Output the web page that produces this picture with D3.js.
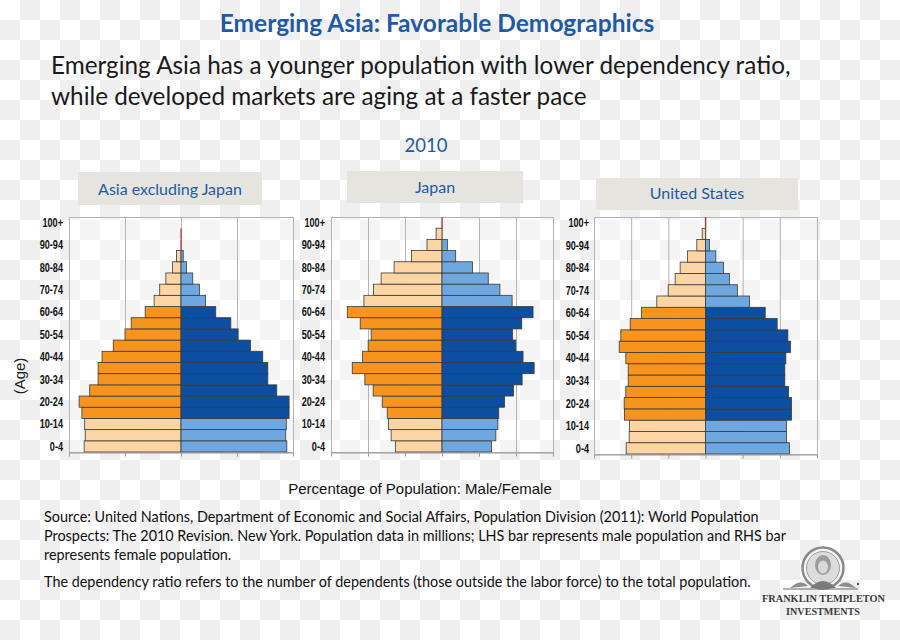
<!DOCTYPE html>
<html><head><meta charset="utf-8">
<script src="https://cdn.jsdelivr.net/npm/d3@7/dist/d3.min.js"></script>
<style>html,body{margin:0;padding:0;background:#fff;}svg{display:block;}</style>
</head><body>
<svg id="c" width="900" height="640"></svg>
<script>
// ---------- DATA ----------
const ageGroups = ["0-4","5-9","10-14","15-19","20-24","25-29","30-34","35-39","40-44","45-49","50-54","55-59","60-64","65-69","70-74","75-79","80-84","85-89","90-94","95-99","100+"];
const axisLabels = ["0-4","10-14","20-24","30-34","40-44","50-54","60-64","70-74","80-84","90-94","100+"];
const regionNames = ["Asia excluding Japan","Japan","United States"];
// population (millions); LHS = male, RHS = female
const asiaMale    = [173,171,172,177,182,163,148,148,141,121,100,89,64,48,38,27,15,8,1.2,0.3,0];
const asiaFemale  = [189,187,188,193,193,171,155,155,146,124,102,89,62,44,33,21,10,4,0.8,0.2,0];
const japanMale   = [2.52,2.75,2.89,2.96,3.23,3.72,4.17,4.85,4.29,3.99,3.83,4.42,5.12,4.22,3.70,3.29,2.59,1.65,0.81,0.32,0.04];
const japanFemale = [2.68,2.91,3.02,3.07,3.38,3.86,4.33,4.98,4.38,3.99,3.81,4.31,4.92,3.79,3.13,2.50,1.65,0.74,0.29,0.05,0.01];
const usMale      = [10.67,10.27,10.22,10.90,10.94,10.72,10.40,10.40,10.72,11.61,11.39,10.13,8.61,6.55,5.02,4.08,3.41,2.42,1.17,0.45,0.05];
const usFemale    = [11.30,10.90,10.90,11.57,11.57,11.17,10.67,10.67,10.81,11.43,11.08,9.64,8.03,5.92,4.30,3.23,2.42,1.39,0.54,0.10,0.01];
const axisMax  = [200, 6, 15];
const gridStep = [100, 2, 5];
const yearLabel = "2010";
const titleText = "Emerging Asia: Favorable Demographics";
const subtitleLines = ["Emerging Asia has a younger population with lower dependency ratio,","while developed markets are aging at a faster pace"];
const xAxisTitle = "Percentage of Population: Male/Female";
const yAxisTitle = "(Age)";
const sourceLines = [
 "Source: United Nations, Department of Economic and Social Affairs, Population Division (2011): World Population",
 "Prospects: The 2010 Revision. New York. Population data in millions; LHS bar represents male population and RHS bar",
 "represents female population."
];
const noteLine = "The dependency ratio refers to the number of dependents (those outside the labor force) to the total population.";
const logoLines = ["FRANKLIN TEMPLETON","INVESTMENTS"];

// ---------- LAYOUT / STYLE ----------
const layout = [
 {x0:69, x1:293, y0:217, y1:452, labelX:63, box:[78,172,184,33], titleY:195},
 {x0:331,x1:553, y0:217, y1:452, labelX:325, box:[347,171,176,32], titleY:193},
 {x0:594,x1:817, y0:217, y1:454, labelX:589, box:[596,178,202,32], titleY:199}
];
const C = {darkOrange:"#F7941D", lightOrange:"#FCD5A3", darkBlue:"#0B4EA2", lightBlue:"#6FA7E1",
           blueText:"#1F5AA6", box:"#E6E4DE", grid:"#B4B4B4", frame:"#9A9A9A"};
const sansUI = "Lato, 'Open Sans', sans-serif";
const arial = "'Liberation Sans', Arial, sans-serif";
const serif = "'Liberation Serif','DejaVu Serif',serif";

const svg = d3.select("#c");

// checkerboard background
const defs = svg.append("defs");
const pat = defs.append("pattern").attr("id","chk").attr("width",40).attr("height",40).attr("patternUnits","userSpaceOnUse");
pat.append("rect").attr("width",40).attr("height",40).attr("fill","#ffffff");
pat.append("rect").attr("x",20).attr("y",0).attr("width",20).attr("height",20).attr("fill","#efefef");
pat.append("rect").attr("x",0).attr("y",20).attr("width",20).attr("height",20).attr("fill","#efefef");
svg.append("rect").attr("width",900).attr("height",640).attr("fill","url(#chk)");

// titles
svg.append("text").attr("x",437).attr("y",32).attr("text-anchor","middle")
  .attr("font-family",sansUI).attr("font-weight","bold").attr("font-size",24.5).attr("fill",C.blueText).text(titleText);
subtitleLines.forEach((t,i)=>{
  svg.append("text").attr("x",51).attr("y",74+i*31).attr("font-family",sansUI).attr("font-size",24.3)
    .attr("fill","#1a1a1a").text(t);
});
svg.append("text").attr("x",426).attr("y",152).attr("text-anchor","middle").attr("font-family",sansUI)
  .attr("font-size",18.5).attr("fill",C.blueText).text(yearLabel);

const series = [[asiaMale,asiaFemale],[japanMale,japanFemale],[usMale,usFemale]];

series.forEach(([male,female],pi)=>{
  const L = layout[pi];
  const g = svg.append("g");
  // region title box
  g.append("rect").attr("x",L.box[0]).attr("y",L.box[1]).attr("width",L.box[2]).attr("height",L.box[3]).attr("fill",C.box);
  g.append("text").attr("x",L.box[0]+L.box[2]/2).attr("y",L.titleY).attr("text-anchor","middle")
    .attr("font-family",sansUI).attr("font-size",16).attr("fill",C.blueText).text(regionNames[pi]);

  const x = d3.scaleLinear().domain([-axisMax[pi], axisMax[pi]]).range([L.x0, L.x1]);
  const y = d3.scaleBand().domain(ageGroups).range([L.y1, L.y0]).padding(0);
  const ticks = d3.range(-axisMax[pi], axisMax[pi] + gridStep[pi]/2, gridStep[pi]);

  // plot background and gridlines
  g.append("rect").attr("x",L.x0).attr("y",L.y0).attr("width",L.x1-L.x0).attr("height",L.y1-L.y0)
    .attr("fill","#ffffff").attr("fill-opacity",0.35);
  g.selectAll("line.grid").data(ticks.slice(1,-1)).join("line").attr("class","grid")
    .attr("x1",d=>x(d)+0.5).attr("x2",d=>x(d)+0.5).attr("y1",L.y0).attr("y2",L.y1)
    .attr("stroke",C.grid).attr("stroke-width",1);
  g.append("rect").attr("x",L.x0+0.5).attr("y",L.y0+0.5).attr("width",L.x1-L.x0).attr("height",L.y1-L.y0)
    .attr("fill","none").attr("stroke",C.grid).attr("stroke-width",1);

  const isLight = i => i < 3 || i >= 13;
  const rows = ageGroups.map((a,i)=>({age:a,i,m:male[i],f:female[i]}));
  const bh = y.bandwidth();
  g.selectAll("rect.m").data(rows.filter(d=>x(0)-x(-d.m) >= 1.5)).join("rect").attr("class","m")
    .attr("x",d=>x(-d.m)).attr("y",d=>y(d.age)).attr("width",d=>x(0)-x(-d.m)).attr("height",bh)
    .attr("fill",d=>isLight(d.i)?C.lightOrange:C.darkOrange).attr("stroke","#3a3a3a").attr("stroke-width",0.8);
  g.selectAll("rect.f").data(rows.filter(d=>x(d.f)-x(0) >= 1.5)).join("rect").attr("class","f")
    .attr("x",x(0)).attr("y",d=>y(d.age)).attr("width",d=>x(d.f)-x(0)).attr("height",bh)
    .attr("fill",d=>isLight(d.i)?C.lightBlue:C.darkBlue).attr("stroke","#3a3a3a").attr("stroke-width",0.8);
  // near-zero bars render as a thin red line
  g.selectAll("line.tiny").data(rows.filter(d=>Math.max(d.m,d.f)>0 && (x(0)-x(-d.m) < 1.5) && (x(d.f)-x(0) < 1.5))).join("line")
    .attr("class","tiny").attr("x1",x(0)).attr("x2",x(0)).attr("y1",d=>y(d.age)).attr("y2",d=>y(d.age)+bh)
    .attr("stroke","#C0282A").attr("stroke-width",1.2);

  // bottom axis
  const ax = g.append("g").attr("transform",`translate(0,${L.y1+0.5})`)
    .call(d3.axisBottom(x).tickValues(ticks).tickFormat("").tickSize(4).tickSizeOuter(0));
  ax.select(".domain").attr("stroke",C.frame);
  ax.selectAll(".tick line").attr("stroke",C.frame);

  // y labels (condensed bold)
  g.selectAll("text.yl").data(axisLabels).join("text").attr("class","yl")
    .attr("transform",d=>`translate(${L.labelX},${y(d)+bh/2}) scale(0.76,1)`)
    .attr("dy","0.36em").attr("text-anchor","end")
    .attr("font-family",arial).attr("font-weight","bold").attr("font-size",12).attr("fill","#111").text(d=>d);
});

// axis titles
svg.append("text").attr("transform","translate(25,376) rotate(-90)").attr("text-anchor","middle")
  .attr("font-family",arial).attr("font-size",15).attr("fill","#222").text(yAxisTitle);
svg.append("text").attr("x",420).attr("y",494).attr("text-anchor","middle")
  .attr("font-family",arial).attr("font-size",15).attr("fill","#111").text(xAxisTitle);

// source notes
sourceLines.forEach((t,i)=>{
  svg.append("text").attr("x",44).attr("y",522+i*19).attr("font-family",sansUI).attr("font-size",14.4)
    .attr("fill","#111").text(t);
});
svg.append("text").attr("x",44).attr("y",587).attr("font-family",sansUI).attr("font-size",14.4)
  .attr("fill","#111").text(noteLine);

// logo
const lg = svg.append("g");
lg.append("circle").attr("cx",823).attr("cy",568).attr("r",20.5).attr("fill","#f4f4f4").attr("stroke","#8a8a8a").attr("stroke-width",2.5);
lg.append("circle").attr("cx",823).attr("cy",568).attr("r",16.5).attr("fill","#dcdcdc").attr("stroke","#a0a0a0").attr("stroke-width",1);
lg.append("ellipse").attr("cx",823).attr("cy",565).attr("rx",8).attr("ry",10).attr("fill","#9c9c9c");
lg.append("ellipse").attr("cx",823).attr("cy",567).attr("rx",5).attr("ry",6.5).attr("fill","#d8d8d8");
lg.append("path").attr("d","M810,588 Q823,574 836,588 Z").attr("fill","#7a7a7a");
lg.append("path").attr("d","M790,588 Q800,578 808,586 Z M856,588 Q846,578 838,586 Z").attr("fill","#8c8c8c");
lg.append("line").attr("x1",783).attr("x2",858).attr("y1",589).attr("y2",589).attr("stroke","#666").attr("stroke-width",1);
lg.append("circle").attr("cx",858).attr("cy",584).attr("r",1.2).attr("fill","#555");
lg.append("text").attr("x",762).attr("y",602).attr("textLength",123).attr("lengthAdjust","spacingAndGlyphs")
  .attr("font-family",serif).attr("font-size",10.5).attr("font-weight","bold").attr("fill","#3a3a3a").text(logoLines[0]);
lg.append("text").attr("x",786).attr("y",615).attr("textLength",74).attr("lengthAdjust","spacingAndGlyphs")
  .attr("font-family",serif).attr("font-size",10.5).attr("font-weight","bold").attr("fill","#3a3a3a").text(logoLines[1]);
</script>
</body></html>
